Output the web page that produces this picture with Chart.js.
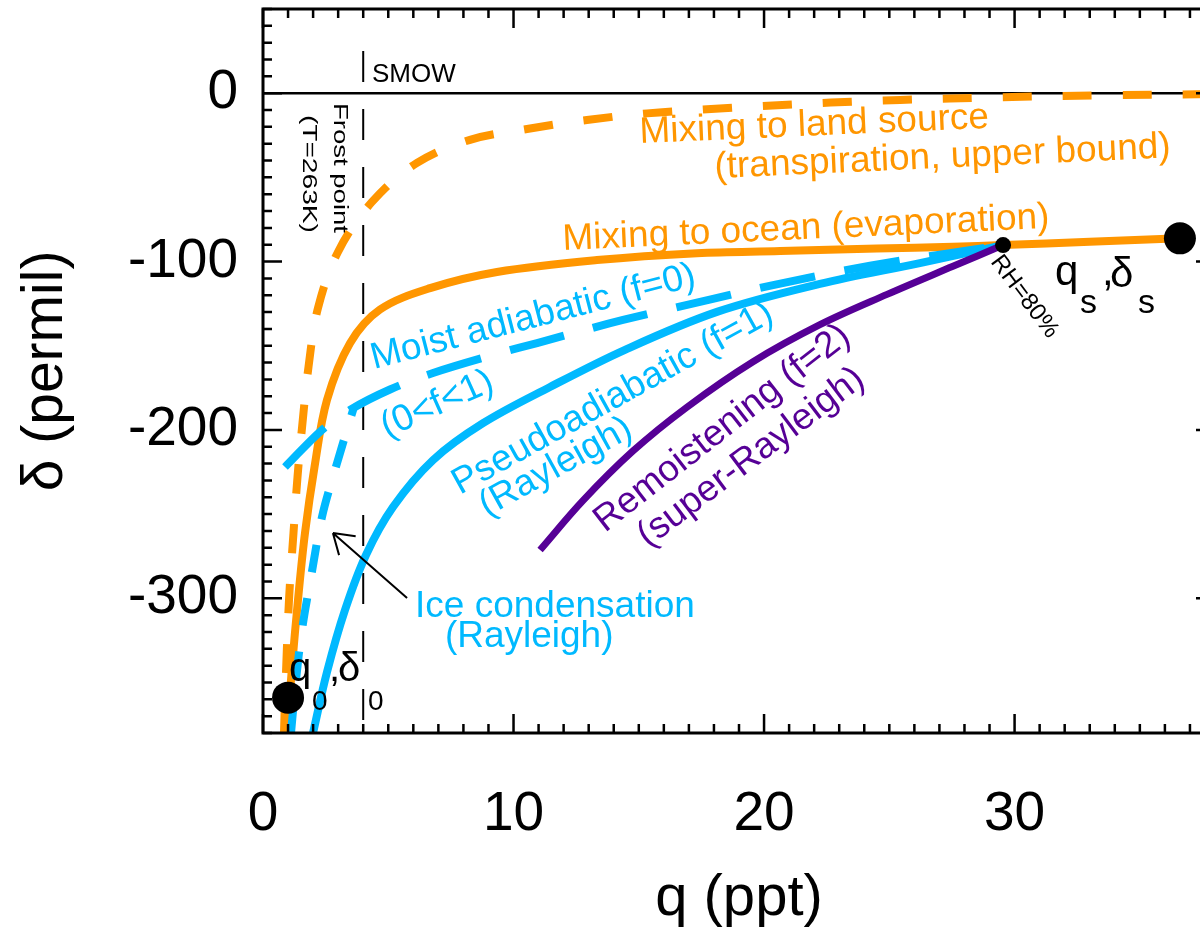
<!DOCTYPE html>
<html>
<head>
<meta charset="utf-8">
<title>q - delta mixing and condensation curves</title>
<script src="https://cdn.jsdelivr.net/npm/chart.js@4.4.1/dist/chart.umd.min.js"></script>
<style>
  html, body { margin: 0; padding: 0; background: #fff; overflow: hidden; }
  canvas { display: block; }
</style>
</head>
<body>
<canvas id="chart" width="1220" height="934"></canvas>
<script>
// tick labels
const qTicks = [0, 10, 20, 30];
const deltaTicks = [-300, -200, -100, 0];

// mixing to ocean (evaporation), solid orange
const oceanQ = [0.958, 1.158, 1.397, 1.676, 2.056, 2.555, 3.473, 4.67, 6.67, 9.34, 13.33, 17.32, 20.64, 24.5, 27.54, 29.54, 33.0, 36.6];
const oceanD = [-380, -340.8, -301, -261.2, -222, -182.2, -148.5, -128.5, -115.8, -106.2, -99.1, -95, -93.8, -92.3, -91.2, -90.2, -88.2, -86.2];

// mixing to land source (transpiration, upper bound), dashed orange
const landQ = [0.838, 0.878, 1.038, 1.217, 1.377, 1.557, 1.816, 2.195, 2.993, 4.35, 6.147, 8.263, 10.54, 12.93, 15.33, 17.72, 19.96, 22.66, 25.43, 29.42, 33.41, 38.0];
const landD = [-380, -360.4, -301, -261.2, -228, -198.8, -162.6, -127.6, -94.3, -64.6, -41.4, -27.7, -21.3, -15.9, -12, -9.6, -7.6, -5.6, -4.0, -2.4, -1.3, -0.5];

// moist adiabatic (0<f<1), long-dashed blue
const moistQ = [0.878, 2.355, 3.473, 5.069, 6.786, 9.46, 10.94, 14.37, 17.96, 20.36, 24.23, 29.54];
const moistD = [-222, -200, -188.1, -176, -166.2, -154.3, -148.4, -134.7, -122.2, -114, -102.5, -90.2];

// pseudoadiabatic (f=1, Rayleigh), solid blue
const pseudoQ = [1.996, 2.555, 3.273, 4.111, 5.189, 6.786, 8.782, 11.456, 14.45, 18.12, 22.23, 26.22, 29.54];
const pseudoD = [-380, -343.8, -307, -274.3, -245.8, -217.9, -196, -174.5, -152.4, -129.9, -113.3, -100.9, -90.2];

// ice condensation (Rayleigh), dashed blue
const iceQ = [1.118, 1.317, 1.557, 1.916, 2.355, 2.874, 3.473, 3.62];
const iceD = [-380, -348.5, -318.8, -287.4, -251.7, -223.8, -194.1, -187];

// remoistening (f=2, super-Rayleigh), purple
const remoistQ = [11.06, 12.77, 14.77, 16.92, 19.56, 22.23, 24.91, 27.54, 29.54];
const remoistD = [-271.3, -242, -212.5, -186.5, -159.5, -137.5, -119.5, -102.8, -90.2];

// end members and the RH=80% point
const endQ = [1.0, 36.6];
const endD = [-359, -86.2];
const rhQ = [29.54];
const rhD = [-90.2];

// reference lines: SMOW (delta = 0) and frost point (q = 4)
const smowQ = [0, 38];
const smowD = [0, 0];
const frostQ = [4, 4];
const frostD = [25, -380];

const ORANGE = '#ff9600';
const BLUE = '#00b9ff';
const PURPLE = '#560096';
const FONT = '"Liberation Sans", Arial, Helvetica, sans-serif';

Chart.defaults.font.family = FONT;
Chart.defaults.color = '#000';

function pts(xs, ys) {
    return xs.map((x, i) => ({ x: x, y: ys[i] }));
}

function curve(xs, ys, color, width, dash, tension) {
    return {
        data: pts(xs, ys),
        showLine: true,
        borderColor: color,
        borderWidth: width,
        borderDash: dash || [],
        borderCapStyle: 'butt',
        borderJoinStyle: 'round',
        pointRadius: 0,
        tension: tension === undefined ? 0.35 : tension,
        fill: false
    };
}

// text placed in data coordinates: q, d, rotation in degrees
const labels = [
    { text: 'Mixing to land source', q: 15.05, d: -29.6, rot: -2.5, size: 37, color: ORANGE },
    { text: '(transpiration, upper bound)', q: 18.04, d: -50.4, rot: -2.6, size: 37, color: ORANGE },
    { text: 'Mixing to ocean (evaporation)', q: 11.97, d: -93.1, rot: -2.6, size: 37, color: ORANGE },
    { text: 'Moist adiabatic (f=0)', q: 4.43, d: -163.8, rot: -14.5, size: 37, color: BLUE },
    { text: '(0<f<1)', q: 4.95, d: -204.8, rot: -24, size: 37, color: BLUE },
    { text: 'Pseudoadiabatic (f=1)', q: 7.86, d: -238.6, rot: -29, size: 37, color: BLUE },
    { text: '(Rayleigh)', q: 8.94, d: -251.7, rot: -29, size: 37, color: BLUE },
    { text: 'Remoistening (f=2)', q: 13.65, d: -261.2, rot: -38, size: 37, color: PURPLE },
    { text: '(super-Rayleigh)', q: 15.37, d: -270.1, rot: -37, size: 37, color: PURPLE },
    { text: 'Ice condensation', q: 6.07, d: -311.1, rot: 0, size: 37, color: BLUE },
    { text: '(Rayleigh)', q: 7.26, d: -328.9, rot: 0, size: 37, color: BLUE },
    { text: 'SMOW', q: 4.35, d: 6.7, rot: 0, size: 26, color: '#000' },
    { text: 'Frost point', q: 2.83, d: -5.8, rot: 90, size: 21, color: '#000', len: 130 },
    { text: '(T=263K)', q: 1.60, d: -12.9, rot: 90, size: 21, color: '#000', len: 118 },
    { text: 'RH=80%', q: 29.02, d: -100.3, rot: 53, size: 24, color: '#000' }
];

// point labels built from pieces: [text, dx, dy, size]
const pointLabels = [
    { q: 1.04, d: -349.1, pieces: [['q', 0, 0, 40], ['0', 23, 29, 28], [',', 40, 0, 40], ['δ', 49, 0, 40], ['0', 79, 29, 28]] },
    { q: 31.61, d: -113.9, pieces: [['q', 0, 0, 42], ['s', 25, 28, 34], [',', 47, 0, 42], ['δ', 55, 2, 42], ['s', 83, 28, 34]] }
];

// arrow from the ice label to the ice curve
const arrowFrom = { q: 5.75, d: -299.8 };
const arrowTo = { q: 2.79, d: -261.2 };

const decor = {
    id: 'decor',
    afterDatasetsDraw(chart) {
        const ctx = chart.ctx;
        const xs = chart.scales.x, ys = chart.scales.y;
        const area = chart.chartArea;

        ctx.save();
        ctx.beginPath();
        ctx.rect(area.left, area.top, area.right - area.left, area.bottom - area.top);
        ctx.clip();

        labels.forEach(L => {
            ctx.save();
            ctx.translate(xs.getPixelForValue(L.q), ys.getPixelForValue(L.d));
            ctx.rotate(L.rot * Math.PI / 180);
            ctx.font = L.size + 'px ' + FONT;
            if (L.len) {
                const w = ctx.measureText(L.text).width;
                ctx.scale(L.len / w, 1);
            }
            ctx.fillStyle = L.color;
            ctx.textAlign = 'left';
            ctx.textBaseline = 'alphabetic';
            ctx.fillText(L.text, 0, 0);
            ctx.restore();
        });

        pointLabels.forEach(P => {
            const x0 = xs.getPixelForValue(P.q), y0 = ys.getPixelForValue(P.d);
            ctx.fillStyle = '#000';
            ctx.textAlign = 'left';
            ctx.textBaseline = 'alphabetic';
            P.pieces.forEach(p => {
                ctx.font = p[3] + 'px ' + FONT;
                ctx.fillText(p[0], x0 + p[1], y0 + p[2]);
            });
        });

        // arrow
        const ax = xs.getPixelForValue(arrowFrom.q), ay = ys.getPixelForValue(arrowFrom.d);
        const bx = xs.getPixelForValue(arrowTo.q), by = ys.getPixelForValue(arrowTo.d);
        const ang = Math.atan2(ay - by, ax - bx);
        ctx.strokeStyle = '#000';
        ctx.lineWidth = 2;
        ctx.beginPath();
        ctx.moveTo(ax, ay);
        ctx.lineTo(bx, by);
        [-0.58, 0.58].forEach(da => {
            ctx.moveTo(bx, by);
            ctx.lineTo(bx + 23 * Math.cos(ang + da), by + 23 * Math.sin(ang + da));
        });
        ctx.stroke();
        ctx.restore();

        // frame and ticks on all four sides
        ctx.save();
        ctx.strokeStyle = '#000';
        ctx.lineWidth = 2.5;
        ctx.beginPath();
        for (let v = 0; v <= 38; v++) {
            const px = xs.getPixelForValue(v);
            const len = v % 10 === 0 ? 19 : 9;
            ctx.moveTo(px, area.bottom);
            ctx.lineTo(px, area.bottom - len);
            ctx.moveTo(px, area.top);
            ctx.lineTo(px, area.top + len);
        }
        for (let v = -380; v <= 50; v += 10) {
            const py = ys.getPixelForValue(v);
            const len = v % 100 === 0 ? 19 : 9;
            ctx.moveTo(area.left, py);
            ctx.lineTo(area.left + len, py);
            ctx.moveTo(area.right, py);
            ctx.lineTo(area.right - len, py);
        }
        ctx.stroke();
        ctx.lineWidth = 3;
        ctx.strokeRect(area.left, area.top, area.right - area.left, area.bottom - area.top);
        ctx.restore();
    }
};

new Chart(document.getElementById('chart').getContext('2d'), {
    type: 'scatter',
    data: {
        datasets: [
            { data: pts(endQ, endD), pointRadius: 16, pointBackgroundColor: '#000', pointBorderWidth: 0 },
            { data: pts(rhQ, rhD), pointRadius: 8, pointBackgroundColor: '#000', pointBorderWidth: 0 },
            curve(remoistQ, remoistD, PURPLE, 7),
            curve(pseudoQ, pseudoD, BLUE, 8),
            curve(moistQ, moistD, BLUE, 8, [56, 30]),
            curve(iceQ, iceD, BLUE, 8, [28, 26]),
            curve(oceanQ, oceanD, ORANGE, 8),
            curve(landQ, landD, ORANGE, 8, [29, 31]),
            curve(frostQ, frostD, '#000', 2, [31, 27], 0),
            curve(smowQ, smowD, '#000', 2.5, [], 0)
        ]
    },
    options: {
        responsive: false,
        animation: false,
        events: [],
        layout: { autoPadding: false, padding: { top: 9, right: 5, bottom: 0, left: 0 } },
        plugins: {
            legend: { display: false },
            tooltip: { enabled: false }
        },
        scales: {
            x: {
                type: 'linear',
                min: 0,
                max: 38,
                grid: { display: false, drawTicks: false },
                border: { display: false },
                afterBuildTicks: s => { s.ticks = qTicks.map(v => ({ value: v })); },
                afterFit: s => { s.height = 201; s.paddingLeft = 0; s.paddingRight = 0; },
                ticks: { font: { size: 55 }, padding: 49, autoSkip: false, maxRotation: 0, color: '#000' },
                title: { display: true, text: 'q (ppt)', font: { size: 58 }, padding: { top: 0, bottom: 0 }, color: '#000' }
            },
            y: {
                type: 'linear',
                min: -380,
                max: 50,
                grid: { display: false, drawTicks: false },
                border: { display: false },
                afterBuildTicks: s => { s.ticks = deltaTicks.map(v => ({ value: v })); },
                afterFit: s => { s.width = 263; s.paddingTop = 0; s.paddingBottom = 0; },
                ticks: { font: { size: 55 }, padding: 25, autoSkip: false, color: '#000' },
                title: { display: true, text: 'δ (permil)', font: { size: 57 }, padding: { top: 12, bottom: 0 }, color: '#000' }
            }
        }
    },
    plugins: [decor]
});
</script>
</body>
</html>
